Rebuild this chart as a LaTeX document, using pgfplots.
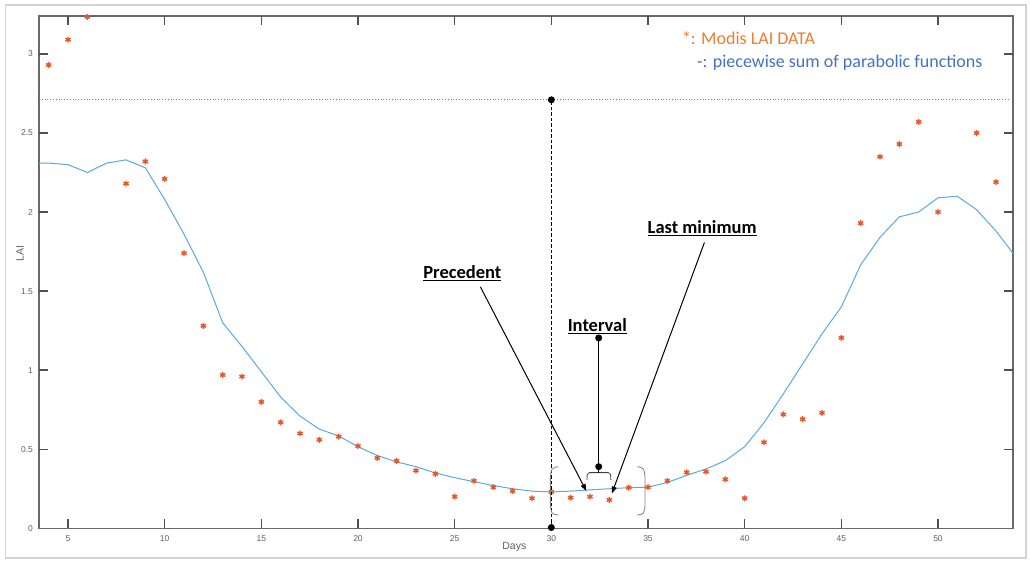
\documentclass[border=0pt]{standalone}
\usepackage{fontspec}
\setmainfont{Carlito}
\newfontfamily\ticksf{Liberation Sans}
\usepackage{pgfplots}
\pgfplotsset{compat=1.18}
\usetikzlibrary{arrows.meta}
\definecolor{axgray}{RGB}{105,105,105}
\definecolor{tkgray}{RGB}{80,80,80}
\definecolor{lblgray}{RGB}{95,95,95}
\definecolor{mkorange}{HTML}{E4572A}
\definecolor{lnblue}{HTML}{5AAAE0}
\definecolor{txtorange}{HTML}{ED7D31}
\definecolor{txtblue}{HTML}{4472C4}
\definecolor{framegray}{RGB}{212,212,212}
\begin{document}
\begin{tikzpicture}
\useasboundingbox (-39pt,-33.7pt) rectangle (991pt,528.3pt);
\draw[framegray, line width=1.4pt] (-33.5pt,-29.7pt) rectangle (987pt,523.3pt);
\begin{axis}[
  scale only axis,
  width=974pt, height=512.3pt,
  at={(0pt,0pt)}, anchor=south west,
  xmin=3.5, xmax=53.88, ymin=0, ymax=3.24,
  xtick={5,10,...,50},
  ytick={0,0.5,1,1.5,2,2.5,3},
  yticklabels={0,0.5,1,1.5,2,2.5,3},
  major tick length=9pt,
  tick style={tkgray, line width=1.4pt},
  axis line style={axgray, line width=1.1pt},
  /pgf/number format/assume math mode=true,
  tick label style={font=\ticksf\fontsize{8.5}{10}\selectfont, text=lblgray},
  xticklabel style={yshift=-3.5pt},
  yticklabel style={xshift=-2.5pt},
  xlabel={Days}, ylabel={LAI},
  label style={font=\ticksf\fontsize{10.5}{12}\selectfont, text=lblgray},
  xlabel style={at={(axis description cs:0.488,0)}, anchor=center, yshift=-18.4pt},
  ylabel style={at={(axis description cs:0,0.537)}, anchor=center, yshift=19pt},
]
\addplot[lnblue, line width=1pt, no marks] coordinates {
(3,2.31) (4,2.31) (5,2.30) (6,2.25) (7,2.31) (8,2.33) (9,2.28) (10,2.08)
(11,1.86) (12,1.62) (13,1.30) (14,1.15) (15,0.99) (16,0.83) (17,0.71)
(18,0.627) (19,0.584) (20,0.516) (21,0.46) (22,0.42) (23,0.39) (24,0.35)
(25,0.32) (26,0.295) (27,0.27) (28,0.25) (29,0.235) (30,0.23) (31,0.235)
(32,0.243) (33,0.25) (34,0.257) (35,0.26) (36,0.29) (37,0.335) (38,0.375)
(39,0.428) (40,0.516) (41,0.668) (42,0.85) (43,1.04) (44,1.23) (45,1.40)
(46,1.666) (47,1.84) (48,1.97) (49,2.0) (50,2.09) (51,2.10) (52,2.015)
(53,1.88) (54,1.72)
};
\addplot[only marks, mark=asterisk, mark size=3pt, mkorange, line width=1.4pt] coordinates {
(4,2.93) (5,3.09) (6,3.235) (8,2.18) (9,2.32) (10,2.21) (11,1.74) (12,1.28)
(13,0.97) (14,0.96) (15,0.80) (16,0.67) (17,0.60) (18,0.56) (19,0.58)
(20,0.52) (21,0.445) (22,0.426) (23,0.365) (24,0.345) (25,0.20) (26,0.30)
(27,0.26) (28,0.236) (29,0.19) (30,0.23) (31,0.194) (32,0.20) (33,0.18)
(34,0.257) (35,0.26) (36,0.30) (37,0.354) (38,0.358) (39,0.31) (40,0.19)
(41,0.544) (42,0.72) (43,0.69) (44,0.73) (45,1.205) (46,1.93) (47,2.35)
(48,2.43) (49,2.57) (50,2.00) (52,2.50) (53,2.19)
};
\coordinate (HL) at (axis cs:3.5,2.71);
\coordinate (HR) at (axis cs:53.7,2.71);
\coordinate (VT) at (axis cs:30,2.71);
\coordinate (VB) at (axis cs:30,0.005);
\coordinate (VB0) at (axis cs:30,0);
\coordinate (L1) at (axis cs:30.35,0.39);
\coordinate (L1c) at (axis cs:30.0,0.38);
\coordinate (L2) at (axis cs:29.95,0.32);
\coordinate (L3) at (axis cs:29.95,0.15);
\coordinate (L3c) at (axis cs:30.0,0.09);
\coordinate (L4) at (axis cs:30.35,0.084);
\coordinate (R1) at (axis cs:34.45,0.39);
\coordinate (R1c) at (axis cs:34.8,0.38);
\coordinate (R2) at (axis cs:34.85,0.32);
\coordinate (R3) at (axis cs:34.85,0.15);
\coordinate (R3c) at (axis cs:34.8,0.09);
\coordinate (R4) at (axis cs:34.45,0.084);
\coordinate (B1) at (axis cs:31.84,0.306);
\coordinate (B2) at (axis cs:31.86,0.352);
\coordinate (B3) at (axis cs:33.06,0.352);
\coordinate (B4) at (axis cs:33.08,0.306);
\coordinate (S0) at (axis cs:32.45,0.352);
\coordinate (S1) at (axis cs:32.45,0.39);
\coordinate (S2) at (axis cs:32.45,1.204);
\coordinate (PA) at (axis cs:26.33,1.527);
\coordinate (PB) at (axis cs:31.81,0.236);
\coordinate (MA) at (axis cs:37.92,1.808);
\coordinate (MB) at (axis cs:33.13,0.22);
\coordinate (TP) at (axis cs:25.4,1.616);
\coordinate (TI) at (axis cs:32.38,1.28);
\coordinate (TM) at (axis cs:37.8,1.90);
\coordinate (T1) at (axis cs:36.75,3.10);
\coordinate (T2) at (axis cs:37.53,2.947);
\end{axis}
% tick marks as thin filled bars, inside on all four sides
% (axis at origin: 19.3331pt per day, 158.117pt per LAI unit)
\foreach \v in {5,10,15,20,25,30,35,40,45,50}{
  \fill[tkgray] ({(\v-3.5)*19.3331pt-0.7pt},0pt) rectangle ({(\v-3.5)*19.3331pt+0.7pt},9pt);
  \fill[tkgray] ({(\v-3.5)*19.3331pt-0.7pt},503.3pt) rectangle ({(\v-3.5)*19.3331pt+0.7pt},512.3pt);
}
\foreach \v in {0.5,1,1.5,2,2.5,3}{
  \fill[tkgray] (0pt,{\v*158.117pt-0.7pt}) rectangle (9pt,{\v*158.117pt+0.7pt});
  \fill[tkgray] (965pt,{\v*158.117pt-0.7pt}) rectangle (974pt,{\v*158.117pt+0.7pt});
}
% reference lines
\draw[gray, dotted, line width=0.8pt] (HL) -- (HR);
\draw[black, line width=1.3pt, dash pattern=on 3.5pt off 2pt] (VB0) -- (VT);
\fill[black] (VT) circle (3.5pt);
\fill[black] (VB) circle (3.5pt);
% brackets
\draw[gray, line width=0.8pt] (L1) .. controls (L1c) .. (L2) -- (L3) .. controls (L3c) .. (L4);
\draw[gray, line width=0.8pt] (R1) .. controls (R1c) .. (R2) -- (R3) .. controls (R3c) .. (R4);
\draw[black!75, line width=0.8pt, rounded corners=2pt] (B1) -- (B2) -- (B3) -- (B4);
% interval stem
\draw[black, line width=1pt] (S0) -- (S2);
\fill[black] (S1) circle (3.5pt);
\fill[black] (S2) circle (3.5pt);
% arrows
\draw[black, line width=1pt, -{Triangle[length=7pt,width=5pt]}] (PA) -- (PB);
\draw[black, line width=1pt, -{Triangle[length=7pt,width=5pt]}] (MA) -- (MB);
% labels
\node[font=\bfseries\fontsize{18.5}{20}\selectfont, inner sep=0pt] at (TP) {\underline{Precedent}};
\node[font=\bfseries\fontsize{18.5}{20}\selectfont, inner sep=0pt] at (TI) {\underline{Interval}};
\node[font=\bfseries\fontsize{18.5}{20}\selectfont, inner sep=0pt] at (TM) {\underline{Last minimum}};
\node[font=\fontsize{18}{20}\selectfont, text=txtorange, anchor=west, inner sep=0pt] at (T1) {*: Modis LAI DATA};
\node[font=\fontsize{18}{20}\selectfont, text=txtblue, anchor=west, inner sep=0pt] at (T2) {-: piecewise sum of parabolic functions};
\end{tikzpicture}
\end{document}
